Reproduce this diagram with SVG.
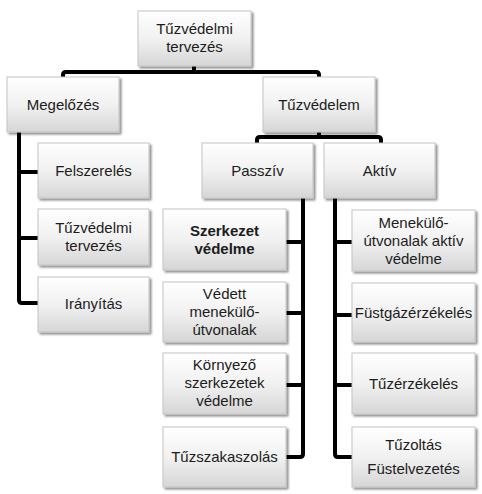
<svg xmlns="http://www.w3.org/2000/svg" width="482" height="494" viewBox="0 0 482 494">
<defs>
<linearGradient id="g" x1="0" y1="0" x2="0" y2="1">
<stop offset="0" stop-color="#ffffff"/>
<stop offset="0.5" stop-color="#f1f1f1"/>
<stop offset="1" stop-color="#d6d6d6"/>
</linearGradient>
<filter id="sh" x="-10%" y="-10%" width="125%" height="130%">
<feGaussianBlur in="SourceAlpha" stdDeviation="1.2"/>
<feOffset dx="2" dy="2" result="b"/>
<feComponentTransfer><feFuncA type="linear" slope="0.45"/></feComponentTransfer>
<feMerge><feMergeNode/><feMergeNode in="SourceGraphic"/></feMerge>
</filter>
</defs>
<style>
.box{fill:url(#g);stroke:#c4c4c4;stroke-width:1;filter:url(#sh)}
.t{font-family:"Liberation Sans",Arial,sans-serif;font-size:15px;fill:#1c1c1c;text-anchor:middle}
.b{font-weight:bold}
.c{fill:none;stroke:#000;stroke-width:4;stroke-linejoin:round;stroke-linecap:butt}
</style>
<rect width="482" height="494" fill="#fff"/>
<g id="connectors">
<path class="c" d="M194,66 V72 M63,78 V75 Q63,72 66,72 H316 Q319,72 319,75 V78"/>
<path class="c" d="M319,132 V137 M257,143 V140 Q257,137 260,137 H378 Q381,137 381,140 V143"/>
<path class="c" d="M19,132 V300 Q19,303 22,303 H38 M19,172 H38 M19,238 H38"/>
<path class="c" d="M303,198 V454 Q303,457 300,457 H286 M303,242 H286 M303,313 H286 M303,385 H286"/>
<path class="c" d="M335,198 V454 Q335,457 338,457 H352 M335,242 H352 M335,315 H352 M335,385 H352"/>
</g>
<g id="n-root"><rect class="box" x="138" y="11" width="113" height="55"/><text class="t" x="194.5" y="34">Tűzvédelmi</text><text class="t" x="194.5" y="52">tervezés</text></g>
<g id="n-megelozes"><rect class="box" x="7" y="77" width="112" height="55"/><text class="t" x="63" y="110">Megelőzés</text></g>
<g id="n-tuzvedelem"><rect class="box" x="263" y="77" width="112" height="55"/><text class="t" x="319" y="110">Tűzvédelem</text></g>
<g id="n-passziv"><rect class="box" x="202" y="143" width="111" height="55"/><text class="t" x="257.5" y="176">Passzív</text></g>
<g id="n-aktiv"><rect class="box" x="324" y="143" width="111" height="55"/><text class="t" x="379.5" y="176">Aktív</text></g>
<g id="n-felszereles"><rect class="box" x="38" y="143" width="111" height="55"/><text class="t" x="93.5" y="176">Felszerelés</text></g>
<g id="n-tervezes"><rect class="box" x="38" y="209" width="111" height="56"/><text class="t" x="93.5" y="233">Tűzvédelmi</text><text class="t" x="93.5" y="251">tervezés</text></g>
<g id="n-iranyitas"><rect class="box" x="38" y="277" width="111" height="55"/><text class="t" x="93.5" y="309">Irányítás</text></g>
<g id="n-szerkezet"><rect class="box" x="163" y="209" width="123" height="61"/><text class="t b" x="224.5" y="236">Szerkezet</text><text class="t b" x="224.5" y="254">védelme</text></g>
<g id="n-vedett"><rect class="box" x="163" y="282" width="123" height="60"/><text class="t" x="224.5" y="299">Védett</text><text class="t" x="224.5" y="317">menekülő-</text><text class="t" x="224.5" y="335">útvonalak</text></g>
<g id="n-kornyezo"><rect class="box" x="163" y="353" width="123" height="61"/><text class="t" x="224.5" y="370">Környező</text><text class="t" x="224.5" y="388">szerkezetek</text><text class="t" x="224.5" y="406">védelme</text></g>
<g id="n-tuzszak"><rect class="box" x="163" y="427" width="123" height="60"/><text class="t" x="224.5" y="462">Tűzszakaszolás</text></g>
<g id="n-menekulo"><rect class="box" x="352" y="210" width="123" height="61"/><text class="t" x="413.5" y="228">Menekülő-</text><text class="t" x="413.5" y="246">útvonalak aktív</text><text class="t" x="413.5" y="264">védelme</text></g>
<g id="n-fustgaz"><rect class="box" x="352" y="283" width="123" height="59"/><text class="t" x="413.5" y="318">Füstgázérzékelés</text></g>
<g id="n-tuzerz"><rect class="box" x="352" y="353" width="123" height="61"/><text class="t" x="413.5" y="389">Tűzérzékelés</text></g>
<g id="n-tuzoltas"><rect class="box" x="352" y="427" width="123" height="60"/><text class="t" x="413.5" y="450">Tűzoltás</text><text class="t" x="413.5" y="474">Füstelvezetés</text></g>
</svg>
